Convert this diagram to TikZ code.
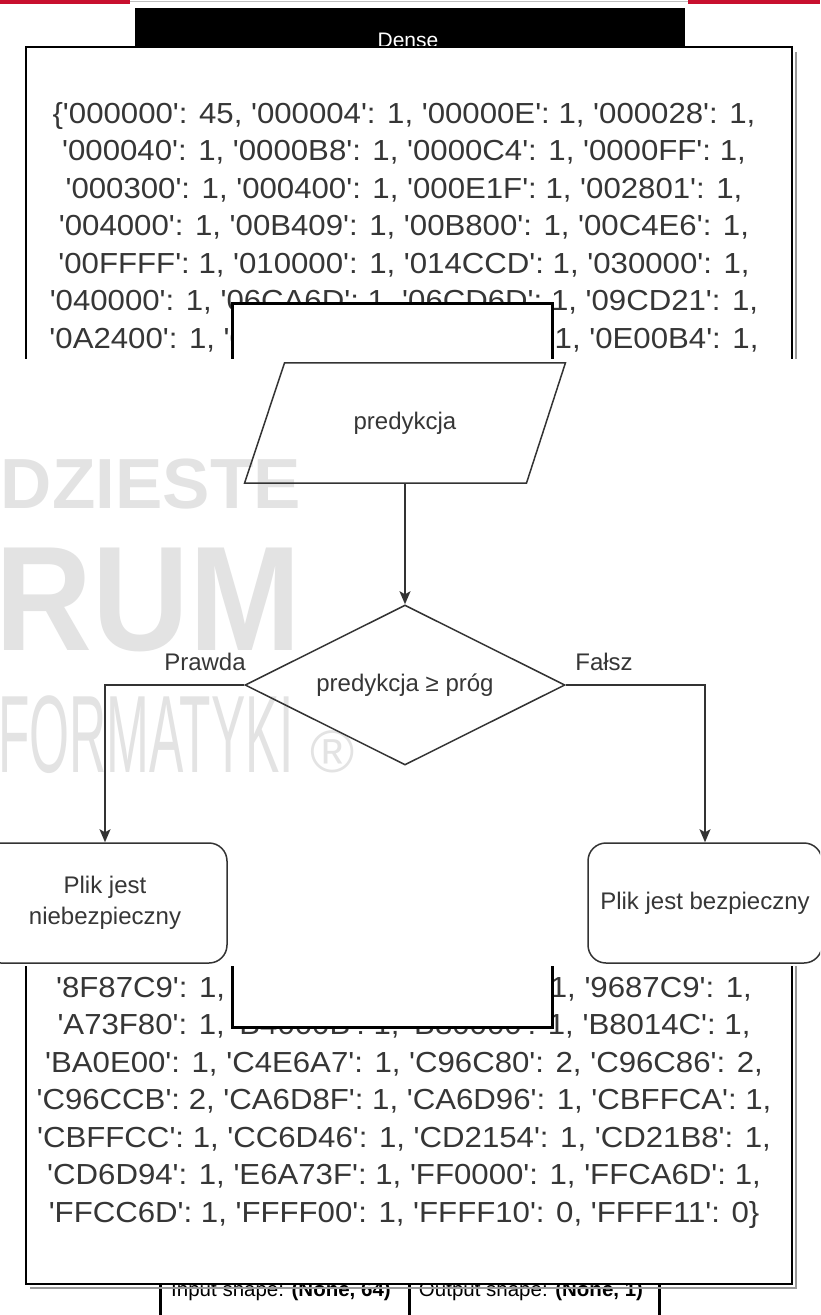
\documentclass[tikz,border=0pt]{standalone}
\usepackage{graphicx}
\usepackage{fontspec}
\setmainfont{Liberation Sans}
\newfontfamily\af{Liberation Sans}
\usetikzlibrary{shapes.geometric,arrows.meta}
\definecolor{txt}{HTML}{363636}
\definecolor{ln}{HTML}{333333}
\definecolor{wm}{HTML}{E3E3E3}
\definecolor{redbar}{HTML}{C8102E}
\newcommand{\dictfont}{\af\fontsize{29}{35}\selectfont}
\newcommand{\flowfont}{\af\fontsize{24}{31}\selectfont}
\newcommand{\strx}[1]{\scalebox{1.075}[1]{#1}}
\begin{document}
\begin{tikzpicture}[x=1pt,y=-1pt,
  dict/.style={anchor=base, inner sep=0pt, text=txt, font=\dictfont},
  strip/.style={anchor=base, inner sep=0pt, text=black, font=\af\fontsize{20.5}{24}\selectfont},
  wmark/.style={inner sep=0pt, text=wm},
  flowtxt/.style={font=\flowfont, text=txt},
  stepbox/.style={rectangle, rounded corners=18pt, draw=ln, line width=1.5pt, minimum height=120pt, align=center, inner sep=0pt, font=\flowfont, text=txt},
  arr/.style={draw=ln, line width=1.5pt, -{Stealth[length=13pt, width=11pt, inset=3pt]}}
]
\useasboundingbox (0,0) rectangle (820,1315);
\clip (0,0) rectangle (820,1315);
\fill[white] (0,0) rectangle (820,1315);

% top red bar
\fill[redbar] (0,0) rectangle (130,3.5);
\fill[redbar] (688,0) rectangle (820,3.5);
\draw[black!25, line width=1pt] (130,1.5) -- (688,1.5);

% bottom strip (shape table)
\node[strip] (inshape) at (281,1296) {Input shape: \textbf{(None, 64)}};
\node[strip] (outshape) at (531,1296) {Output shape: \textbf{(None, 1)}};
\draw[black, line width=3pt] (160,1280) -- (160,1316);
\draw[black, line width=3pt] (409,1280) -- (409,1316);
\draw[black, line width=3pt] (659,1280) -- (659,1316);

% Dense header
\fill[black] (135,8) rectangle (685,80);
\node[anchor=base, inner sep=0pt, text=white, font=\af\fontsize{21}{24}\selectfont] (dense) at (408,47.5) {Dense};

% big dictionary box
\draw[black!40, line width=2pt] (30,1287.5) -- (795.5,1287.5) -- (795.5,52);
\draw[black, fill=white, line width=2.5pt] (26,47) rectangle (792,1284);

\node[dict] (t1) at (404,123)   {\strx{\{'000000': 45, '000004': 1, '00000E': 1, '000028': 1,}};
\node[dict] (t2) at (404,160.5) {\strx{'000040': 1, '0000B8': 1, '0000C4': 1, '0000FF': 1,}};
\node[dict] (t3) at (404,198)   {\strx{'000300': 1, '000400': 1, '000E1F': 1, '002801': 1,}};
\node[dict] (t4) at (404,235.5) {\strx{'004000': 1, '00B409': 1, '00B800': 1, '00C4E6': 1,}};
\node[dict] (t5) at (404,273)   {\strx{'00FFFF': 1, '010000': 1, '014CCD': 1, '030000': 1,}};
\node[dict] (t6) at (404,310.5) {\strx{'040000': 1, '06CA6D': 1, '06CD6D': 1, '09CD21': 1,}};
\node[dict] (t7) at (404,348)   {\strx{'0A2400': 1, '0C4E00': 1, '0CD6D9': 1, '0E00B4': 1,}};

\node[dict] (b1) at (404,997)    {\strx{'8F87C9': 1, '90C4E6': 1, '9600FF': 1, '9687C9': 1,}};
\node[dict] (b2) at (404,1034.5) {\strx{'A73F80': 1, 'B4000B': 1, 'B80000': 1, 'B8014C': 1,}};
\node[dict] (b3) at (404,1072)   {\strx{'BA0E00': 1, 'C4E6A7': 1, 'C96C80': 2, 'C96C86': 2,}};
\node[dict] (b4) at (404,1109.5) {\strx{'C96CCB': 2, 'CA6D8F': 1, 'CA6D96': 1, 'CBFFCA': 1,}};
\node[dict] (b5) at (404,1147)   {\strx{'CBFFCC': 1, 'CC6D46': 1, 'CD2154': 1, 'CD21B8': 1,}};
\node[dict] (b6) at (404,1184.5) {\strx{'CD6D94': 1, 'E6A73F': 1, 'FF0000': 1, 'FFCA6D': 1,}};
\node[dict] (b7) at (404,1222)   {\strx{'FFCC6D': 1, 'FFFF00': 1, 'FFFF10': 0, 'FFFF11': 0\}}};

% inner white box
\draw[black, fill=white, line width=3pt] (232,303) rectangle (552,1027);

% flowchart panel
\fill[white] (0,359) rectangle (820,966);

% watermark
\node[wmark, anchor=base east, font=\af\bfseries\fontsize{71}{80}\selectfont] (wm1) at (301,508) {DZIESTE};
\node[wmark, anchor=base east, font=\af\bfseries\fontsize{149}{160}\selectfont] (wm2) at (301,650) {\scalebox{0.9}[1]{RUM}};
\node[wmark, anchor=base west, font=\af\fontsize{110}{120}\selectfont] (wm3) at (-2,772) {\scalebox{0.467}[1]{FORMATYKI}};
\node[wmark, anchor=base west, font=\af\fontsize{60}{64}\selectfont] (wm4) at (310,772) {®};

% flowchart
\node[flowtxt, minimum width=280.5pt, minimum height=120pt, inner sep=0pt] (para) at (405,423) {predykcja};
\draw[ln, line width=1.5pt] ([xshift=20pt]para.north west) -- ([xshift=20pt]para.north east)
  -- ([xshift=-19pt]para.south east) -- ([xshift=-20pt]para.south west) -- cycle;

\node[diamond, aspect=2, draw=ln, line width=1.5pt, minimum width=320pt, minimum height=160pt, inner sep=0pt, flowtxt] (dia) at (405,685) {predykcja ≥ próg};

\node[stepbox, minimum width=244pt] (lbox) at (105,903) {Plik jest\\niebezpieczny};
\node[stepbox, minimum width=234pt] (rbox) at (705,903) {Plik jest bezpieczny};

\draw[arr] (para.south) -- (dia.north);
\draw[arr] (dia.west) -| (lbox.north);
\draw[arr] (dia.east) -| (rbox.north);

\node[flowtxt, inner sep=0pt] (prawda) at (205,662) {Prawda};
\node[flowtxt, inner sep=0pt] (falsz) at (604,662) {Fałsz};
\end{tikzpicture}
\end{document}
